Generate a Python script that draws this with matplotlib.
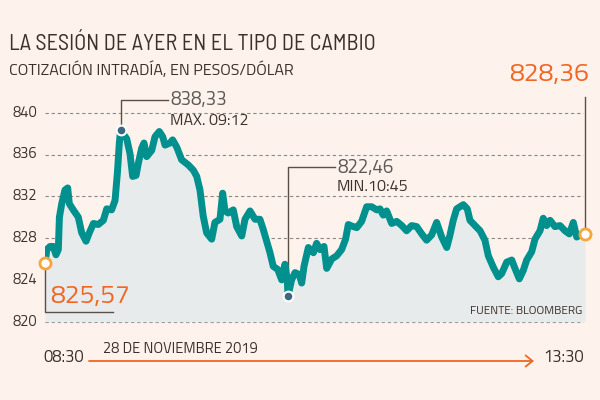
import matplotlib
matplotlib.use("Agg")
import matplotlib.pyplot as plt
import matplotlib.patches as mpatches

plt.rcParams["font.family"] = ["Titillium Web", "DejaVu Sans"]

# minutos desde las 08:30 y tipo de cambio (pesos/dólar)
minutos = [0, 1, 2.8, 4.6, 6.1, 7.4, 8.0, 9.3, 11.1, 12.6, 13.5, 15.7, 18.5, 20.4,
           22.8, 24.6, 26.9, 29.6, 32.4, 34.3, 37.0, 38.9, 40.2, 41.3, 42, 45.4,
           47.2, 48.7, 50.6, 51.9, 53.7, 55, 56.5, 59.3, 61.1, 63.5, 65.4, 66.7,
           69.4, 70.9, 73.2, 75.9, 79.6, 82.4, 84.3, 86.1, 87.9, 89.8, 92.6, 94.4,
           97.2, 98.7, 100, 101.8, 104.6, 106.5, 109.3, 111.1, 113.9, 116.7, 119.4,
           121.3, 122.8, 125, 126.8, 129.3, 131.5, 133.3, 134.6, 135, 137, 138.9,
           141.3, 142.6, 143.9, 146.3, 149.1, 150.9, 152.8, 155, 156.5, 159.3, 162,
           164.8, 167, 168.5, 171.3, 173.2, 175.9, 178.7, 181.5, 184.3, 186.1,
           187.9, 189.8, 192.6, 195.4, 198.2, 200.9, 203.7, 206.5, 209.3, 212,
           214.8, 217.6, 219.4, 220.4, 223.2, 225, 226.8, 228.7, 232.4, 234.6,
           236.1, 238.9, 241.7, 244.4, 246.3, 249.1, 251.8, 253.7, 256.5, 259.3,
           261.1, 263.5, 265.7, 267.6, 270.4, 272.2, 275, 276.8, 278.7, 280.6,
           283.3, 286.1, 288.9, 291.3, 293.5, 295.4, 297.2, 300]
valores = [825.57, 826.9, 827.2, 827.2, 826.4, 826.9, 830.0, 831.3, 832.6, 832.8,
           831.3, 830.7, 830.0, 828.5, 827.7, 828.5, 829.4, 829.3, 829.7, 830.8,
           830.7, 831.6, 834.2, 837.1, 838.33, 837.5, 836.1, 833.9, 834.0, 835.2,
           836.6, 837.1, 835.8, 836.4, 837.7, 838.2, 837.7, 836.9, 837.1, 837.4,
           836.7, 835.5, 835.0, 834.5, 833.9, 832.6, 830.1, 828.5, 827.9, 829.5,
           829.8, 832.3, 830.6, 830.4, 830.7, 829.1, 828.2, 829.8, 830.6, 829.8,
           829.8, 828.8, 827.9, 826.6, 825.3, 825.0, 824.0, 825.5, 824.0, 822.46,
           824.0, 824.7, 824.5, 823.7, 825.3, 827.1, 826.6, 827.5, 826.9, 827.2,
           825.1, 826.0, 826.3, 826.9, 827.9, 829.3, 829.1, 829.0, 829.6, 831.0,
           831.0, 830.7, 830.8, 830.2, 830.6, 829.4, 829.6, 829.2, 828.7, 829.2,
           829.1, 828.4, 827.8, 828.3, 829.5, 828.6, 828.1, 827.1, 828.3, 829.7,
           830.8, 831.2, 830.8, 829.7, 829.2, 828.7, 827.8, 826.3, 825.2, 824.3,
           824.6, 825.7, 825.9, 825.1, 824.1, 824.9, 825.9, 826.7, 827.9, 828.7,
           829.9, 829.2, 829.7, 829.1, 829.2, 828.7, 828.4, 829.5, 828.1, 828.3,
           828.36]

y_ticks = [820, 824, 828, 832, 836, 840]
apertura = (0, 825.57)
cierre = (300, 828.36)
maximo = (42, 838.33)
minimo = (135, 822.46)

FONDO = "#fdf2ec"
RELLENO = "#e8ebeb"
LINEA = "#00918f"
NARANJA = "#f26522"
OSCURO = "#3b3128"
GRIS = "#5c5854"

fig = plt.figure(figsize=(6, 4), dpi=100, facecolor=FONDO)
ax = fig.add_axes([45 / 600, 1 - 342.6 / 400, 540 / 600, 250.8 / 400])
ax.set_facecolor(FONDO)
ax.set_xlim(0, 300)
ax.set_ylim(818, 842)
for s in ax.spines.values():
    s.set_visible(False)
ax.set_xticks([])
ax.set_yticks([])


def px(x, y, s, **k):
    fig.text(x / 600, 1 - y / 400, s, **k)


# rejilla punteada
for v in y_ticks:
    ax.plot([0, 299], [v, v], color="#8a8a8a", lw=0.8, ls=(0, (3, 2.5)), zorder=1)
    px(37, 112.7 + (840 - v) * 10.45, str(v), ha="right", va="center",
       fontsize=10.5, color=OSCURO)

ax.fill_between(minutos, valores, 820, color=RELLENO, zorder=2, lw=0)
ax.plot(minutos, valores, color=LINEA, lw=5, solid_joinstyle="round",
        solid_capstyle="round", zorder=3)

# líneas de las anotaciones
kw = dict(color="#5a5048", lw=1, clip_on=False, zorder=2.5)
ax.plot([maximo[0], maximo[0], 68.5], [maximo[1], 841.2, 841.2], **kw)
ax.plot([minimo[0], minimo[0], 161], [minimo[1], 834.8, 834.8], **kw)
ax.plot([cierre[0], cierre[0]], [cierre[1], 841.5], **kw)
ax.plot([apertura[0], apertura[0], 37.8], [apertura[1], 820.9, 820.9], **kw)

for p in (maximo, minimo):
    ax.plot(*p, "o", ms=7, mfc="#3d6680", mec="white", mew=1.5, zorder=5, clip_on=False)
for p in (apertura, cierre):
    ax.plot(*p, "o", ms=8, mfc="white", mec="#f9a53b", mew=2, zorder=5, clip_on=False)

px(9, 45, "LA SESIÓN DE AYER EN EL TIPO DE CAMBIO", fontsize=16, color=OSCURO,
   va="center", family=["Barlow Semi Condensed", "Titillium Web", "DejaVu Sans"])
px(9, 70, "COTIZACIÓN INTRADÍA, EN PESOS/DÓLAR", fontsize=11.5, color=OSCURO, va="center")
px(589, 75, "828,36", fontsize=19, color=NARANJA, ha="right", va="center")
px(50, 297, "825,57", fontsize=19, color=NARANJA, va="center")
px(170, 100, "838,33", fontsize=13.5, color=GRIS, va="center")
px(170, 121, "MAX. 09:12", fontsize=11.5, color=OSCURO, va="center")
px(337, 168, "822,46", fontsize=13.5, color=GRIS, va="center")
px(337, 187, "MIN.10:45", fontsize=11.5, color=OSCURO, va="center")
px(582, 312, "FUENTE: BLOOMBERG", fontsize=8.5, color=OSCURO, ha="right", va="center")
px(43, 357, "08:30", fontsize=12, color=OSCURO, ha="left", va="center")
px(584, 357, "13:30", fontsize=12, color=OSCURO, ha="right", va="center")
px(103, 349, "28 DE NOVIEMBRE 2019", fontsize=10.5, color=OSCURO, va="center")

fig.add_artist(mpatches.FancyArrowPatch(
    (89 / 600, 1 - 361 / 400), (534 / 600, 1 - 361 / 400), transform=fig.transFigure,
    arrowstyle="->,head_length=5,head_width=4", color=NARANJA, lw=1.3,
    shrinkA=0, shrinkB=0))

fig.savefig("out.png", dpi=100, facecolor=FONDO)
